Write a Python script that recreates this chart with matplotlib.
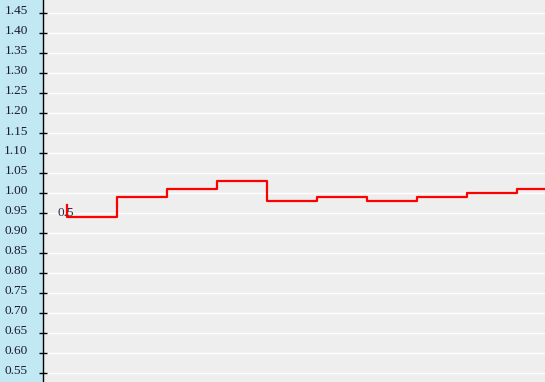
import matplotlib
matplotlib.use("Agg")
import matplotlib.pyplot as plt
import matplotlib.transforms as mtransforms
import numpy as np

# 階段状の値
steps = [0, 1, 2, 3, 4, 5, 6, 7, 8, 9, 10]
values = [0.97, 0.94, 0.99, 1.01, 1.03, 0.98, 0.99, 0.98, 0.99, 1.00, 1.01]
yticks = [0.55, 0.60, 0.65, 0.70, 0.75, 0.80, 0.85, 0.90, 0.95, 1.00,
          1.05, 1.10, 1.15, 1.20, 1.25, 1.30, 1.35, 1.40, 1.45]
note_text = "0.5"

fig = plt.figure(figsize=(5.45, 3.82), dpi=100, facecolor="#C2E8F4")
ax = fig.add_axes([43 / 545, 0, 1 - 43 / 545, 1])
ax.set_facecolor("#EEEEEE")

ax.plot(steps, values, drawstyle="steps-pre", color="red", linewidth=1.6)
ax.text(-0.2, 0.95, note_text, fontsize=9.5, family="Liberation Serif",
        color="#2a2a44", ha="left", va="center")

ax.set_xlim(-0.48, 9.56)
ax.set_ylim(0.5275, 1.4825)
ax.set_yticks(yticks)
ax.set_yticklabels(["%.2f" % v for v in yticks])
ax.set_xticks([])
ax.yaxis.grid(True, color="white", linewidth=1.0)
ax.set_axisbelow(True)

for s in ["top", "right", "bottom"]:
    ax.spines[s].set_visible(False)
ax.spines["left"].set_color("black")
ax.spines["left"].set_linewidth(1.0)

ax.tick_params(axis="y", direction="inout", length=6, width=1.0,
               color="black", pad=8, labelsize=9.5, labelcolor="#1a1a33")
offset = mtransforms.ScaledTranslation(0, 3 / 100, fig.dpi_scale_trans)
for lbl in ax.get_yticklabels():
    lbl.set_family("Liberation Serif")
    lbl.set_transform(lbl.get_transform() + offset)

fig.savefig("out.png", dpi=100, facecolor=fig.get_facecolor())
